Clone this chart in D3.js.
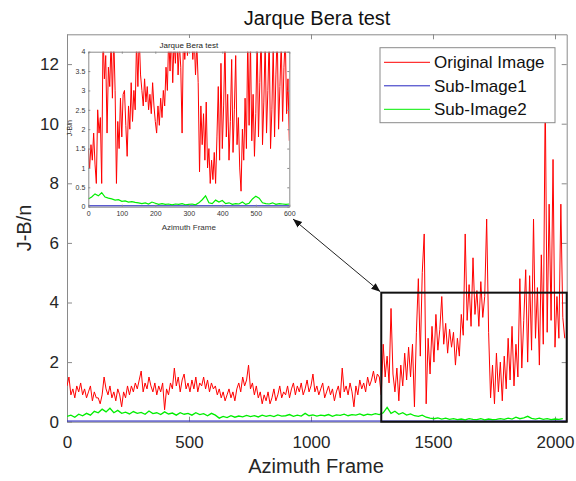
<!DOCTYPE html>
<html>
<head>
<meta charset="utf-8">
<script src="https://cdn.jsdelivr.net/npm/d3@7"></script>
<style>
body { margin: 0; background: #fff; }
text { font-family: "Liberation Sans", Arial, sans-serif; }
</style>
</head>
<body>
<div id="chart"></div>
<script>
// frames between two stored samples
var redStep = 8, greenStep = 16, blueStep = 256;
var insetRedStep = 4, insetGreenStep = 10, insetBlueStep = 100;

var seriesNames = ["Original Image", "Sub-Image1", "Sub-Image2"];
var seriesColors = ["#ff0000", "#2424c0", "#00ee00"];

var mainXTicks = [0, 500, 1000, 1500, 2000];
var mainYTicks = [0, 2, 4, 6, 8, 10, 12];
var insetXTicks = [0, 100, 200, 300, 400, 500, 600];
var insetYTicks = [0, 0.5, 1, 1.5, 2, 2.5, 3, 3.5, 4];

// J-B/n of the original image, one value every 8 frames
var redMain = [
  1.2,1.5,0.9,1.1,0.8,1.2,1.0,1.3,0.9,1.1,0.8,1.0,1.2,0.7,1.0,0.8,
  0.8,0.6,0.9,1.5,1.1,0.9,1.2,0.8,1.0,0.7,1.1,0.9,0.5,1.0,0.8,1.2,
  0.9,1.2,1.0,1.3,1.1,1.4,1.7,1.0,1.3,1.1,1.5,1.2,1.0,1.3,0.9,1.2,
  1.0,1.3,0.4,1.1,0.9,1.3,1.1,1.8,1.2,1.5,1.0,1.4,1.6,1.1,1.3,1.0,
  1.4,1.1,1.5,1.0,1.3,1.2,1.5,1.1,1.4,1.0,1.3,1.1,1.2,0.9,1.1,0.8,
  1.0,0.7,0.9,1.1,0.8,1.0,0.7,1.1,1.3,1.0,1.5,1.2,1.4,1.9,1.1,1.3,
  0.9,1.2,0.8,1.0,0.6,0.9,0.7,1.0,0.6,0.8,1.1,0.7,0.9,1.2,0.8,1.0,
  0.9,1.2,0.8,1.1,1.3,0.9,1.2,1.0,1.3,0.9,1.1,1.4,1.0,1.2,1.6,1.0,
  1.2,0.9,1.1,1.3,0.8,1.0,1.2,0.9,1.1,0.7,1.0,1.2,0.8,1.8,1.0,1.2,
  0.9,1.3,1.0,0.5,1.2,0.9,1.4,1.1,1.3,1.0,1.5,1.2,1.4,1.7,1.3,1.6,
  1.5,0.9,2.6,1.5,2.2,1.3,3.8,1.6,1.0,1.8,0.7,1.9,1.2,2.3,1.4,2.5,
  1.5,2.6,0.5,3.0,4.8,2.2,5.0,6.3,0.6,2.8,1.6,3.2,2.0,3.6,2.4,3.1,
  4.2,2.6,3.3,2.3,3.1,2.5,3.0,1.9,2.8,2.2,3.6,2.9,6.3,3.4,4.6,3.2,
  5.5,3.6,4.4,3.2,4.7,3.5,4.2,6.8,3.0,0.8,1.9,0.6,2.3,1.0,2.0,0.7,
  2.2,1.1,2.8,1.4,3.2,1.2,2.6,1.5,4.8,1.8,3.4,5.1,2.0,4.9,2.4,6.8,
  2.8,4.5,1.9,5.6,2.6,11.0,3.0,7.3,3.4,8.8,2.5,4.2,2.8,7.3,3.5,2.8
];

// Sub-Image1, flat near zero
var blueMain = [0.02,0.02,0.02,0.02,0.02,0.02,0.02,0.02,0.02];

// Sub-Image2, one value every 16 frames
var greenMain = [
  0.18,0.22,0.15,0.25,0.2,0.28,0.22,0.35,0.3,0.42,0.33,0.45,0.3,0.38,0.28,0.32,
  0.26,0.34,0.28,0.31,0.25,0.36,0.27,0.3,0.24,0.33,0.26,0.29,0.22,0.3,0.25,0.28,
  0.22,0.3,0.24,0.27,0.2,0.28,0.22,0.12,0.18,0.14,0.2,0.15,0.19,0.16,0.21,0.17,
  0.2,0.16,0.22,0.18,0.21,0.17,0.23,0.19,0.2,0.24,0.18,0.22,0.19,0.28,0.2,0.23,
  0.19,0.22,0.2,0.24,0.18,0.23,0.21,0.25,0.2,0.24,0.22,0.26,0.21,0.25,0.23,0.27,
  0.24,0.3,0.48,0.28,0.35,0.25,0.3,0.22,0.26,0.2,0.18,0.22,0.15,0.12,0.1,0.13,
  0.09,0.12,0.08,0.1,0.07,0.09,0.06,0.1,0.08,0.07,0.1,0.06,0.09,0.07,0.08,0.1,
  0.08,0.12,0.09,0.15,0.1,0.13,0.18,0.11,0.09,0.12,0.08,0.1,0.07,0.09,0.08,0.1
];

// inset: last 600 frames, original image, every 4 frames
var redInset = [
  1.5,1.0,1.6,1.2,1.9,1.1,0.6,2.5,1.9,2.3,
  0.6,4.5,3.3,3.9,1.9,3.6,3.1,4.3,2.8,4.4,
  3.0,0.6,2.2,1.5,2.8,1.8,2.9,3.0,2.1,1.3,
  2.6,2.0,3.2,2.2,3.0,2.5,4.3,3.1,4.4,3.4,
  3.0,2.6,3.3,2.7,3.1,2.5,2.9,2.4,3.2,2.6,
  2.2,1.9,2.6,2.1,2.8,2.3,3.0,2.6,3.6,3.0,
  4.4,3.5,4.5,3.2,4.3,3.7,4.6,3.4,4.2,3.6,
  1.9,4.5,3.8,4.4,3.9,4.6,4.1,4.5,3.8,4.4,
  3.4,4.2,3.2,0.9,2.6,1.6,2.4,1.2,2.7,1.0,
  1.5,0.6,1.2,0.7,1.4,0.6,1.8,3.1,1.2,3.7,
  1.5,2.6,4.3,1.8,2.9,1.2,2.2,3.8,1.4,2.5,
  3.9,1.6,2.3,1.0,0.4,2.0,1.2,2.8,1.5,4.4,
  2.1,4.3,1.7,2.9,1.3,2.4,4.4,1.8,3.2,4.5,
  1.6,2.7,4.3,1.9,3.0,4.4,1.5,2.5,4.2,1.8,
  3.4,4.5,2.0,3.1,4.3,2.2,3.6,4.4,2.4,3.3,
  1.7
];
var blueInset = [0.02,0.02,0.02,0.02,0.02,0.02,0.02];
var greenInset = [
  0.2,0.25,0.33,0.28,0.36,0.25,0.22,0.2,0.17,0.18,
  0.14,0.15,0.12,0.13,0.11,0.1,0.08,0.1,0.07,0.12,
  0.09,0.06,0.08,0.06,0.07,0.05,0.07,0.06,0.08,0.05,
  0.06,0.07,0.05,0.1,0.18,0.28,0.1,0.08,0.17,0.12,
  0.16,0.08,0.1,0.06,0.08,0.07,0.12,0.06,0.09,0.2,
  0.27,0.22,0.1,0.08,0.07,0.1,0.06,0.08,0.07,0.06,
  0.07
];

// zoomed window drawn on the main plot
var zoomBox = {x0: 1288, x1: 2048, y0: 0, y1: 4.33};

var W = 576, H = 481;
var margin = {top: 34.3, right: 9.3, bottom: 59.3, left: 67},
    width = W - margin.left - margin.right,
    height = H - margin.top - margin.bottom;

var svg = d3.select("#chart").append("svg")
    .attr("width", W)
    .attr("height", H);

var defs = svg.append("defs");

var x = d3.scaleLinear().domain([0, 2048]).range([0, width]);
var y = d3.scaleLinear().domain([0, 13]).range([height, 0]);

var plain = function (d) { return String(d); };

var g = svg.append("g")
    .attr("transform", "translate(" + margin.left + "," + margin.top + ")");

function styleAxis(sel, size, color) {
    sel.select(".domain").attr("stroke", "#8a8a8a");
    sel.selectAll(".tick line").attr("stroke", "#8a8a8a");
    sel.selectAll(".tick text")
        .attr("fill", color)
        .style("font-size", size + "px")
        .style("font-family", "'Liberation Sans', Arial, sans-serif");
}

// main axes (ticks inward, box all round)
g.append("g").attr("transform", "translate(0," + height + ")")
    .call(d3.axisBottom(x).tickValues(mainXTicks).tickFormat(plain).tickSizeInner(-5).tickSizeOuter(0).tickPadding(14))
    .call(styleAxis, 17, "#262626");
g.append("g")
    .call(d3.axisTop(x).tickValues(mainXTicks).tickSizeInner(-5).tickSizeOuter(0).tickFormat(""))
    .call(styleAxis, 17, "#262626");
g.append("g")
    .call(d3.axisLeft(y).tickValues(mainYTicks).tickFormat(plain).tickSizeInner(-5).tickSizeOuter(0).tickPadding(8))
    .call(styleAxis, 17, "#262626");
g.append("g").attr("transform", "translate(" + width + ",0)")
    .call(d3.axisRight(y).tickValues(mainYTicks).tickSizeInner(-5).tickSizeOuter(0).tickFormat(""))
    .call(styleAxis, 17, "#262626");

defs.append("clipPath").attr("id", "clipMain")
    .append("rect").attr("width", width).attr("height", height);

function drawSeries(parent, data, step, xs, ys, color, clip, sw) {
    parent.append("path")
        .datum(data)
        .attr("clip-path", "url(#" + clip + ")")
        .attr("fill", "none")
        .attr("stroke", color)
        .attr("stroke-width", sw)
        .attr("d", d3.line()
            .x(function (d, i) { return xs(i * step); })
            .y(function (d) { return ys(d); }));
}

drawSeries(g, redMain, redStep, x, y, seriesColors[0], "clipMain", 1);
drawSeries(g, blueMain, blueStep, x, y, seriesColors[1], "clipMain", 1.2);
drawSeries(g, greenMain, greenStep, x, y, seriesColors[2], "clipMain", 1.3);

// zoom rectangle
g.append("rect")
    .attr("x", x(zoomBox.x0))
    .attr("y", y(zoomBox.y1))
    .attr("width", x(zoomBox.x1) - x(zoomBox.x0))
    .attr("height", y(zoomBox.y0) - y(zoomBox.y1))
    .attr("fill", "none")
    .attr("stroke", "#111")
    .attr("stroke-width", 2);

// main labels
svg.append("text")
    .attr("x", 317).attr("y", 25)
    .attr("text-anchor", "middle")
    .style("font-size", "20px")
    .attr("fill", "#111")
    .text("Jarque Bera test");

svg.append("text")
    .attr("x", 316).attr("y", 473)
    .attr("text-anchor", "middle")
    .style("font-size", "20px")
    .attr("fill", "#262626")
    .text("Azimuth Frame");

svg.append("text")
    .attr("transform", "translate(31,228) rotate(-90)")
    .attr("text-anchor", "middle")
    .style("font-size", "20px")
    .attr("fill", "#262626")
    .text("J-B/n");

// inset
var inset = {left: 88.3, top: 51.7, width: 201, height: 155};

svg.append("rect")
    .attr("x", 74).attr("y", 38)
    .attr("width", 222).attr("height", 196)
    .attr("fill", "#fff");

var xi = d3.scaleLinear().domain([0, 600]).range([0, inset.width]);
var yi = d3.scaleLinear().domain([0, 4]).range([inset.height, 0]);

var gi = svg.append("g")
    .attr("transform", "translate(" + inset.left + "," + inset.top + ")");

defs.append("clipPath").attr("id", "clipInset")
    .append("rect").attr("width", inset.width).attr("height", inset.height);

drawSeries(gi, redInset, insetRedStep, xi, yi, seriesColors[0], "clipInset", 1);
drawSeries(gi, blueInset, insetBlueStep, xi, yi, seriesColors[1], "clipInset", 1.2);
drawSeries(gi, greenInset, insetGreenStep, xi, yi, seriesColors[2], "clipInset", 1.2);

gi.append("g").attr("transform", "translate(0," + inset.height + ")")
    .call(d3.axisBottom(xi).tickValues(insetXTicks).tickFormat(plain).tickSizeInner(-2).tickSizeOuter(0).tickPadding(4))
    .call(styleAxis, 7, "#333");
gi.append("g")
    .call(d3.axisTop(xi).tickValues(insetXTicks).tickSizeInner(-2).tickSizeOuter(0).tickFormat(""))
    .call(styleAxis, 7, "#333");
gi.append("g")
    .call(d3.axisLeft(yi).tickValues(insetYTicks).tickFormat(plain).tickSizeInner(-2).tickSizeOuter(0).tickPadding(3))
    .call(styleAxis, 7, "#333");
gi.append("g").attr("transform", "translate(" + inset.width + ",0)")
    .call(d3.axisRight(yi).tickValues(insetYTicks).tickSizeInner(-2).tickSizeOuter(0).tickFormat(""))
    .call(styleAxis, 7, "#333");

gi.append("text")
    .attr("x", inset.width / 2).attr("y", -4)
    .attr("text-anchor", "middle")
    .style("font-size", "8px")
    .attr("fill", "#222")
    .text("Jarque Bera test");
gi.append("text")
    .attr("x", inset.width / 2).attr("y", inset.height + 23)
    .attr("text-anchor", "middle")
    .style("font-size", "8px")
    .attr("fill", "#333")
    .text("Azimuth Frame");
gi.append("text")
    .attr("transform", "translate(-16," + (inset.height / 2 - 1) + ") rotate(-90)")
    .attr("text-anchor", "middle")
    .style("font-size", "7px")
    .attr("fill", "#333")
    .text("J-B/n");

// double-headed arrow between inset and zoom box
var arrowSize = 9;
defs.append("marker")
    .attr("id", "arrowHead")
    .attr("viewBox", "0 0 10 10")
    .attr("refX", 10).attr("refY", 5)
    .attr("markerUnits", "userSpaceOnUse")
    .attr("markerWidth", arrowSize).attr("markerHeight", arrowSize)
    .attr("orient", "auto-start-reverse")
    .append("path")
    .attr("d", "M0,1 L10,5 L0,9 Z")
    .attr("fill", "#111");

svg.append("line")
    .attr("x1", 293).attr("y1", 219)
    .attr("x2", margin.left + x(zoomBox.x0) - 1).attr("y2", margin.top + y(zoomBox.y1) - 1)
    .attr("stroke", "#222")
    .attr("stroke-width", 1)
    .attr("marker-start", "url(#arrowHead)")
    .attr("marker-end", "url(#arrowHead)");

// legend
var legend = svg.append("g").attr("transform", "translate(380,47.7)");
legend.append("rect")
    .attr("width", 175).attr("height", 75)
    .attr("fill", "#fff")
    .attr("stroke", "#8a8a8a")
    .attr("stroke-width", 1);

var item = legend.selectAll(".item")
    .data(seriesNames)
    .enter().append("g")
    .attr("class", "item")
    .attr("transform", function (d, i) { return "translate(0," + (14.6 + i * 23.5) + ")"; });

item.append("line")
    .attr("x1", 4).attr("x2", 50)
    .attr("stroke", function (d, i) { return seriesColors[i]; })
    .attr("stroke-width", 1);

item.append("text")
    .attr("x", 54).attr("dy", "0.35em")
    .style("font-size", "17px")
    .attr("fill", "#111")
    .text(function (d) { return d; });
</script>
</body>
</html>
